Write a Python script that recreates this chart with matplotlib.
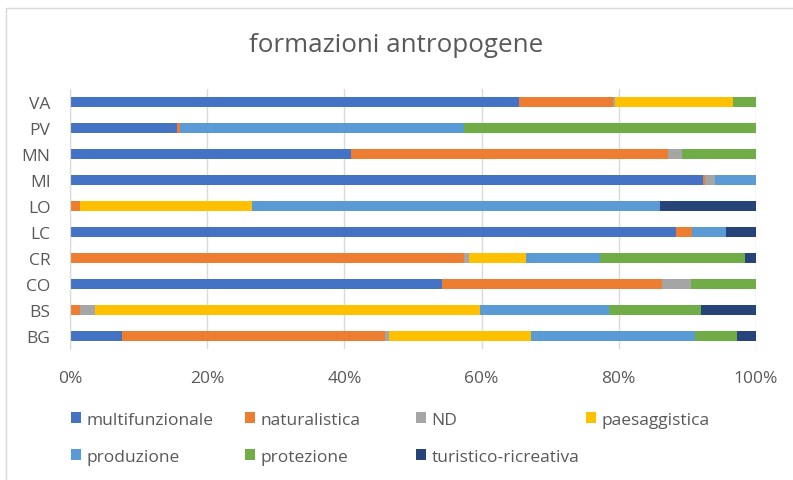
import numpy as np
import matplotlib.pyplot as plt
from matplotlib.patches import Rectangle

plt.rcParams['font.family'] = ['Open Sans', 'DejaVu Sans']

provinces = ['BG', 'BS', 'CO', 'CR', 'LC', 'LO', 'MI', 'MN', 'PV', 'VA']
series = ['multifunzionale', 'naturalistica', 'ND', 'paesaggistica',
          'produzione', 'protezione', 'turistico-ricreativa']
colors = ['#4472C4', '#ED7D31', '#A5A5A5', '#FFC000', '#5B9BD5', '#70AD47', '#264478']

# shares (%) per province, same order as provinces
multifunzionale = [7.6, 0.0, 54.3, 0.0, 88.4, 0.0, 92.3, 40.9, 15.6, 65.4]
naturalistica = [38.3, 1.5, 32.0, 57.4, 2.2, 1.5, 0.3, 46.3, 0.4, 13.8]
nd = [0.6, 2.2, 4.2, 0.8, 0.0, 0.0, 1.4, 2.0, 0.0, 0.2]
paesaggistica = [20.7, 56.0, 0.0, 8.2, 0.0, 25.1, 0.0, 0.0, 0.0, 17.2]
produzione = [23.9, 18.8, 0.0, 10.9, 5.0, 59.4, 6.0, 0.0, 41.5, 0.0]
protezione = [6.1, 13.5, 9.5, 21.1, 0.0, 0.0, 0.0, 10.8, 42.5, 3.4]
turistico = [2.8, 8.0, 0.0, 1.6, 4.4, 14.0, 0.0, 0.0, 0.0, 0.0]

data = np.array([multifunzionale, naturalistica, nd, paesaggistica,
                 produzione, protezione, turistico])
data = data / data.sum(axis=0) * 100

gray = '#595959'
fig = plt.figure(figsize=(7.93, 4.81), dpi=100)
ax = fig.add_axes([70 / 793, 1 - 350 / 481, 686 / 793, 260 / 481])

y = np.arange(len(provinces))
left = np.zeros(len(provinces))
bars = []
for vals, name, col in zip(data, series, colors):
    b = ax.barh(y, vals, left=left, height=0.41, color=col, label=name)
    bars.append(b)
    left += vals

ax.set_xlim(0, 100)
ax.set_ylim(-0.5, len(provinces) - 0.5)
ax.set_xticks(np.arange(0, 101, 20))
ax.set_xticklabels(['%d%%' % v for v in range(0, 101, 20)])
ax.set_yticks(y)
ax.set_yticklabels(provinces)
ax.tick_params(length=0, labelsize=12.5, colors=gray)
ax.tick_params(axis='y', pad=14)
ax.tick_params(axis='x', pad=15)
ax.grid(axis='x', color='#d9d9d9', linewidth=1)
ax.set_axisbelow(True)
for s in ['top', 'right', 'bottom']:
    ax.spines[s].set_visible(False)
ax.spines['left'].set_color('#d9d9d9')

fig.text(0.5, 1 - 46 / 481, 'formazioni antropogene', ha='center', va='center',
         fontsize=18.7, color=gray)

# legend laid out in four equal columns like the original
col_x = [71, 245, 416, 586]
row_y = [421, 458]
for i, (b, name) in enumerate(zip(bars, series)):
    row, c = divmod(i, 4)
    fig.legend([b], [name], loc='center left',
               bbox_to_anchor=(col_x[c] / 793, 1 - row_y[row] / 481),
               frameon=False, fontsize=12.5, labelcolor=gray,
               handlelength=0.6, handleheight=0.6, handletextpad=0.3,
               borderpad=0, borderaxespad=0)

fig.patches.append(Rectangle((6 / 793, -0.1), 1.2, 1 - 9 / 481 + 0.1,
                             transform=fig.transFigure, fill=False,
                             edgecolor='#d9d9d9', linewidth=1))

fig.savefig('out.png', dpi=100)
